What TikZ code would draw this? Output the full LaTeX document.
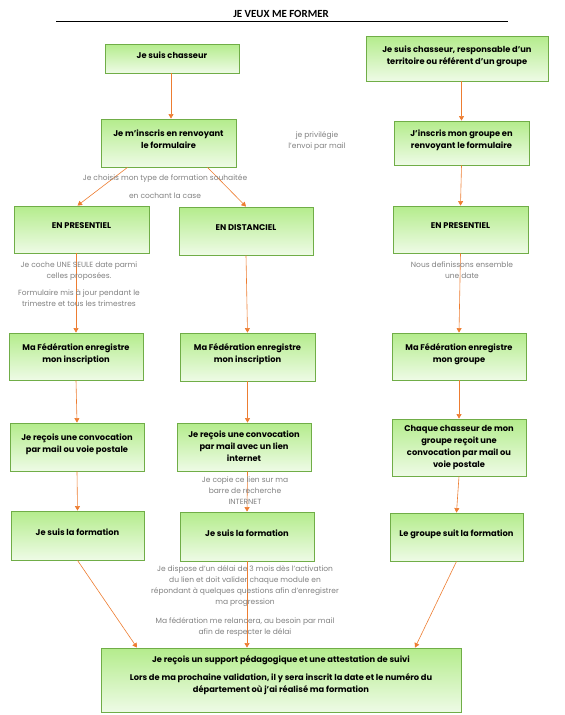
\documentclass[tikz,border=0pt]{standalone}
\usepackage{fontspec}
\setmainfont{Poppins}
\newfontfamily\titlefont{Carlito}
\usetikzlibrary{arrows.meta}
\definecolor{boxtop}{RGB}{180,236,140}
\definecolor{boxbottom}{RGB}{238,251,230}
\definecolor{boxline}{RGB}{112,173,71}
\definecolor{arrowcol}{RGB}{237,125,49}
\definecolor{notecol}{RGB}{128,128,128}
\begin{document}
\begin{tikzpicture}[x=1pt, y=-1pt,
  box/.style={draw=boxline, line width=0.8pt, top color=boxtop, bottom color=boxbottom,
              align=center, inner sep=2pt, font=\bfseries\fontsize{8.3}{12}\selectfont,
              execute at end node={\rule[-#1]{0pt}{#1}}},
  box/.default=7pt,
  note/.style={text=notecol, align=center, font=\fontsize{7.5}{11}\selectfont},
  arrow/.style={draw=arrowcol, line width=0.6pt, -{Triangle[length=4.5pt,width=5pt]}}]
\useasboundingbox (0,0) rectangle (565,715);
\node[font=\titlefont\bfseries\fontsize{10.9}{12}\selectfont] (titre) at (281,14) {JE VEUX ME FORMER};
\draw[line width=0.9pt] (56,21.5) -- (508,21.5);
% first row
\node[box, minimum width=134, minimum height=29] (chasseur) at (172,58.5) {Je suis chasseur};
\node[box, minimum width=182, minimum height=45] (responsable) at (457,58.5) {Je suis chasseur, responsable d’un\\territoire ou référent d’un groupe};
\node[box, minimum width=135, minimum height=48] (inscris) at (168.5,143) {Je m’inscris en renvoyant\\le formulaire};
\node[box, minimum width=135, minimum height=44] (inscrisgroupe) at (461.5,143) {J’inscris mon groupe en\\renvoyant le formulaire};
% type of training
\node[box, minimum width=135, minimum height=47] (presentielA) at (81.5,229.5) {EN PRESENTIEL};
\node[box, minimum width=134, minimum height=48] (distanciel) at (246,231) {EN DISTANCIEL};
\node[box, minimum width=135, minimum height=47] (presentielB) at (460.5,229.5) {EN PRESENTIEL};
\node[box, minimum width=134, minimum height=47] (fedA) at (76,356.5) {Ma Fédération enregistre\\mon inscription};
\node[box, minimum width=135, minimum height=48] (fedB) at (247.5,357) {Ma Fédération enregistre\\mon inscription};
\node[box, minimum width=134, minimum height=47] (fedC) at (459,356.5) {Ma Fédération enregistre\\mon groupe};
\node[box, minimum width=134, minimum height=48] (convA) at (77,447) {Je reçois une convocation\\par mail ou voie postale};
\node[box=2pt, minimum width=134, minimum height=48] (convB) at (244,447) {Je reçois une convocation\\par mail avec un lien\\internet};
\node[box=0pt, minimum width=134, minimum height=57] (convC) at (459,447.5) {Chaque chasseur de mon\\groupe reçoit une\\convocation par mail ou\\voie postale};
\node[box, minimum width=133, minimum height=49] (suisA) at (77.5,535.5) {Je suis la formation};
\node[box, minimum width=134, minimum height=49] (suisB) at (247,536.5) {Je suis la formation};
\node[box, minimum width=133, minimum height=48] (suitgroupe) at (456.5,537) {Le groupe suit la formation};
\node[box=12pt, minimum width=360, minimum height=64] (support) at (281,680) {Je reçois un support pédagogique et une attestation de suivi\\[6pt]Lors de ma prochaine validation, il y sera inscrit la date et le numéro du\\département où j’ai réalisé ma formation};
% arrows
\draw[arrow] ([xshift=-1]chasseur.south) -- ([xshift=-1]chasseur.south |- inscris.north);
\draw[arrow] (inscrisgroupe.north |- responsable.south) -- (inscrisgroupe.north);
\draw[arrow] ([xshift=-41]inscris.south) -- ([xshift=-4]presentielA.north);
\draw[arrow] ([xshift=39]inscris.south) -- (distanciel.north);
\draw[arrow] (inscrisgroupe.south) -- (presentielB.north);
\draw[arrow] (fedA.north |- presentielA.south) -- (fedA.north);
\draw[arrow] (distanciel.south) -- (fedB.north);
\draw[arrow] (presentielB.south) -- (fedC.north);
\draw[arrow] (fedA.south) -- (convA.north);
\draw[arrow] (fedB.south) -- (fedB.south |- convB.north);
\draw[arrow] (fedC.south) -- (convC.north);
\draw[arrow] (convA.south) -- (suisA.north);
\draw[arrow] (fedB.south |- convB.south) -- (suisB.north);
\draw[arrow] (convC.south) -- (suitgroupe.north);
\draw[arrow] (suisA.south) -- ([xshift=-144]support.north);
\draw[arrow] (suisB.south) -- (suisB.south |- support.north);
\draw[arrow] (suitgroupe.south) -- ([xshift=134]support.north);
% grey notes
\node[note] (mail) at (317,141.5) {je privilégie\\l’envoi par mail};
\node[note] (choix) at (165,187) {Je choisis mon type de formation souhaitée\\[7pt]en cochant la case};
\node[note] (date) at (79,284.5) {Je coche UNE SEULE date parmi\\celles proposées.\\[6pt]Formulaire mis à jour pendant le\\trimestre et tous les trimestres};
\node[note] (ensemble) at (462,270.5) {Nous definissons ensemble\\une date};
\node[note] (lien) at (245,490.5) {Je copie ce lien sur ma\\barre de recherche\\INTERNET};
\node[note] (delai) at (245,601) {Je dispose d’un délai de 3 mois dès l’activation\\du lien et doit valider chaque module en\\répondant à quelques questions afin d’enregistrer\\ma progression\\[8pt]Ma fédération me relancera, au besoin par mail\\afin de respecter le délai};
\end{tikzpicture}
\end{document}
